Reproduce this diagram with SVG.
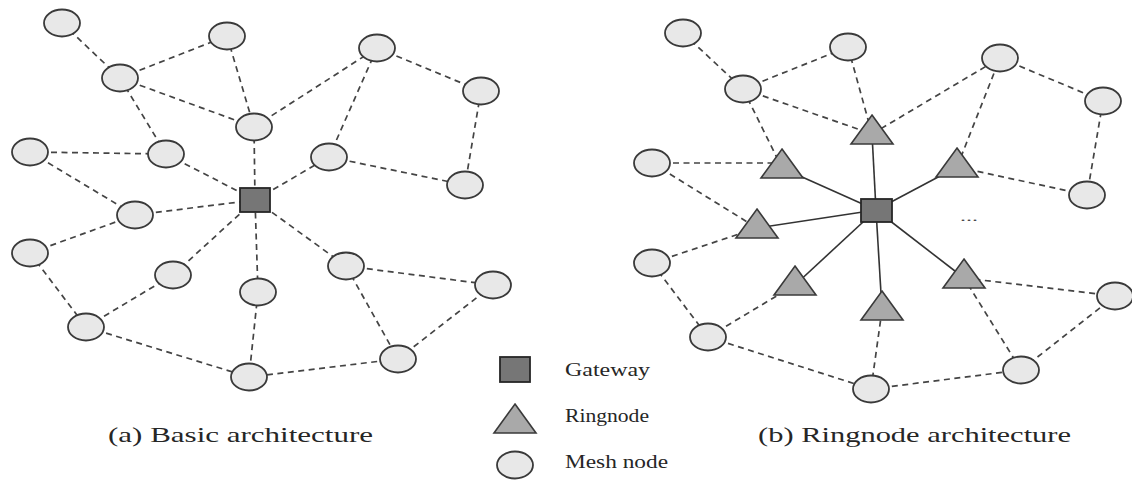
<svg xmlns="http://www.w3.org/2000/svg" width="1132" height="480" viewBox="0 0 1132 480">
  <style>
    .link { stroke: #444; stroke-width: 1.7; stroke-dasharray: 6 4.5; fill: none; }
    .wire { stroke: #333; stroke-width: 1.6; fill: none; }
    .mesh { fill: #e8e8e8; stroke: #3a3a3a; stroke-width: 1.8; }
    .gw { fill: #767676; stroke: #262626; stroke-width: 1.8; }
    .ring { fill: #a9a9a9; stroke: #3a3a3a; stroke-width: 1.6; stroke-linejoin: miter; }
    .cap { font-family: "Liberation Serif", "Times New Roman", serif; font-size: 22px; fill: #262626; }
    .leg { font-family: "Liberation Serif", "Times New Roman", serif; font-size: 18px; fill: #262626; }
  </style>
  <defs>
    <ellipse id="m" cx="0" cy="0" rx="18" ry="13.5" class="mesh"/>
    <polygon id="t" points="0,0 21,29 -21,29" class="ring"/>
  </defs>

  <!-- (a) basic architecture: connectors -->
  <g id="links-a">
    <line class="link" x1="62" y1="23" x2="120" y2="78"/>
    <line class="link" x1="120" y1="78" x2="227" y2="36"/>
    <line class="link" x1="120" y1="78" x2="254" y2="127"/>
    <line class="link" x1="227" y1="36" x2="254" y2="127"/>
    <line class="link" x1="120" y1="78" x2="166" y2="154"/>
    <line class="link" x1="30" y1="152" x2="166" y2="154"/>
    <line class="link" x1="30" y1="152" x2="135" y2="215"/>
    <line class="link" x1="166" y1="154" x2="255" y2="200"/>
    <line class="link" x1="135" y1="215" x2="255" y2="200"/>
    <line class="link" x1="254" y1="127" x2="255" y2="200"/>
    <line class="link" x1="255" y1="200" x2="329" y2="157"/>
    <line class="link" x1="254" y1="127" x2="377" y2="48"/>
    <line class="link" x1="377" y1="48" x2="329" y2="157"/>
    <line class="link" x1="377" y1="48" x2="481" y2="91"/>
    <line class="link" x1="481" y1="91" x2="465" y2="185"/>
    <line class="link" x1="329" y1="157" x2="465" y2="185"/>
    <line class="link" x1="135" y1="215" x2="30" y2="253"/>
    <line class="link" x1="30" y1="253" x2="86" y2="327"/>
    <line class="link" x1="86" y1="327" x2="173" y2="275"/>
    <line class="link" x1="173" y1="275" x2="255" y2="200"/>
    <line class="link" x1="258" y1="292" x2="255" y2="200"/>
    <line class="link" x1="258" y1="292" x2="249" y2="377"/>
    <line class="link" x1="86" y1="327" x2="249" y2="377"/>
    <line class="link" x1="255" y1="200" x2="346" y2="266"/>
    <line class="link" x1="346" y1="266" x2="493" y2="285"/>
    <line class="link" x1="346" y1="266" x2="398" y2="359"/>
    <line class="link" x1="493" y1="285" x2="398" y2="359"/>
    <line class="link" x1="398" y1="359" x2="249" y2="377"/>
  </g>

  <!-- (a) nodes -->
  <g id="a-mesh">
    <use href="#m" x="62" y="23"/>
    <use href="#m" x="227" y="36"/>
    <use href="#m" x="120" y="78"/>
    <use href="#m" x="254" y="127"/>
    <use href="#m" x="30" y="152"/>
    <use href="#m" x="166" y="154"/>
    <use href="#m" x="135" y="215"/>
    <use href="#m" x="377" y="48"/>
    <use href="#m" x="481" y="91"/>
    <use href="#m" x="329" y="157"/>
    <use href="#m" x="465" y="185"/>
    <use href="#m" x="30" y="253"/>
    <use href="#m" x="173" y="275"/>
    <use href="#m" x="258" y="292"/>
    <use href="#m" x="86" y="327"/>
    <use href="#m" x="249" y="377"/>
    <use href="#m" x="346" y="266"/>
    <use href="#m" x="493" y="285"/>
    <use href="#m" x="398" y="359"/>
  </g>
  <g id="a-gateway">
    <rect class="gw" x="240" y="188" width="30" height="24"/>
  </g>

  <!-- (b) ringnode architecture: connectors -->
  <g id="links-b">
    <line class="link" x1="683" y1="33" x2="743" y2="89"/>
    <line class="link" x1="743" y1="89" x2="848" y2="47"/>
    <line class="link" x1="743" y1="89" x2="872" y2="134"/>
    <line class="link" x1="848" y1="47" x2="872" y2="134"/>
    <line class="link" x1="743" y1="89" x2="782" y2="168"/>
    <line class="link" x1="652" y1="163" x2="782" y2="163"/>
    <line class="link" x1="652" y1="163" x2="757" y2="228"/>
    <line class="link" x1="652" y1="263" x2="757" y2="228"/>
    <line class="link" x1="652" y1="263" x2="708" y2="337"/>
    <line class="link" x1="708" y1="337" x2="795" y2="285"/>
    <line class="link" x1="708" y1="337" x2="871" y2="389"/>
    <line class="link" x1="871" y1="389" x2="882" y2="310"/>
    <line class="link" x1="871" y1="389" x2="1021" y2="370"/>
    <line class="link" x1="1021" y1="370" x2="964" y2="278"/>
    <line class="link" x1="1021" y1="370" x2="1115" y2="296"/>
    <line class="link" x1="964" y1="278" x2="1115" y2="296"/>
    <line class="link" x1="872" y1="134" x2="1000" y2="58"/>
    <line class="link" x1="957" y1="167" x2="1000" y2="58"/>
    <line class="link" x1="957" y1="167" x2="1087" y2="195"/>
    <line class="link" x1="1000" y1="58" x2="1103" y2="101"/>
    <line class="link" x1="1103" y1="101" x2="1087" y2="195"/>
    <line class="wire" x1="876" y1="210" x2="872" y2="134"/>
    <line class="wire" x1="876" y1="210" x2="782" y2="168"/>
    <line class="wire" x1="876" y1="210" x2="757" y2="228"/>
    <line class="wire" x1="876" y1="210" x2="957" y2="167"/>
    <line class="wire" x1="876" y1="210" x2="795" y2="285"/>
    <line class="wire" x1="876" y1="210" x2="882" y2="310"/>
    <line class="wire" x1="876" y1="210" x2="964" y2="278"/>
  </g>

  <!-- (b) nodes -->
  <g id="b-mesh">
    <use href="#m" x="683" y="33"/>
    <use href="#m" x="848" y="47"/>
    <use href="#m" x="743" y="89"/>
    <use href="#m" x="652" y="163"/>
    <use href="#m" x="1000" y="58"/>
    <use href="#m" x="1103" y="101"/>
    <use href="#m" x="1087" y="195"/>
    <use href="#m" x="652" y="263"/>
    <use href="#m" x="708" y="337"/>
    <use href="#m" x="871" y="389"/>
    <use href="#m" x="1115" y="296"/>
    <use href="#m" x="1021" y="370"/>
  </g>
  <g id="b-ringnodes">
    <use href="#t" x="872" y="115"/>
    <use href="#t" x="782" y="149"/>
    <use href="#t" x="757" y="209"/>
    <use href="#t" x="957" y="148"/>
    <use href="#t" x="795" y="266"/>
    <use href="#t" x="882" y="291"/>
    <use href="#t" x="964" y="259"/>
  </g>
  <g id="b-gateway">
    <rect class="gw" x="861" y="199" width="31" height="23"/>
  </g>
  <text x="960" y="221" font-family="Liberation Serif, serif" font-size="13" fill="#444" textLength="18" lengthAdjust="spacingAndGlyphs">...</text>

  <!-- legend -->
  <g id="legend">
    <rect class="gw" x="500" y="357" width="30" height="25"/>
    <use href="#t" x="515" y="404"/>
    <ellipse class="mesh" cx="515" cy="465" rx="18" ry="13.5"/>
    <text class="leg" x="565" y="376" textLength="85" lengthAdjust="spacingAndGlyphs">Gateway</text>
    <text class="leg" x="565" y="422" textLength="84" lengthAdjust="spacingAndGlyphs">Ringnode</text>
    <text class="leg" x="565" y="468" textLength="103" lengthAdjust="spacingAndGlyphs">Mesh node</text>
  </g>

  <!-- captions -->
  <text class="cap" x="108" y="442" textLength="265" lengthAdjust="spacingAndGlyphs">(a) Basic architecture</text>
  <text class="cap" x="758" y="442" textLength="313" lengthAdjust="spacingAndGlyphs">(b) Ringnode architecture</text>
</svg>
